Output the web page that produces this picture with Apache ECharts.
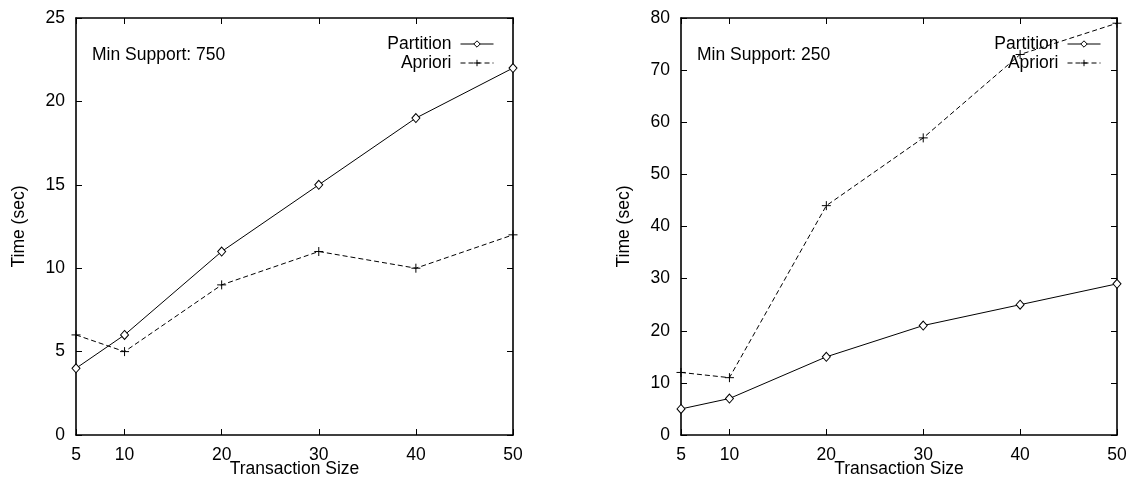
<!DOCTYPE html>
<html>
<head>
<meta charset="utf-8">
<script src="https://cdn.jsdelivr.net/npm/echarts@6/dist/echarts.min.js"></script>
<style>html,body{margin:0;padding:0;background:#fff}#c{width:1132px;height:481px}</style>
</head>
<body>
<div id="c"></div>
<script>
const sizes = [5, 10, 20, 30, 40, 50];
const xTicks = [5, 10, 20, 30, 40, 50];
const partition750 = [4, 6, 11, 15, 19, 22];
const apriori750 = [6, 5, 9, 11, 10, 12];
const partition250 = [5, 7, 15, 21, 25, 29];
const apriori250 = [12, 11, 44, 57, 73, 79];
const seriesNames = ['Partition', 'Apriori'];
const supportLabels = ['Min Support: 750', 'Min Support: 250'];
const xTitle = 'Transaction Size';
const yTitle = 'Time (sec)';

const FONT = 'Liberation Sans, Arial, sans-serif';
const FS = 17.5;
const pair = (xs, ys) => xs.map((x, i) => [x, ys[i]]);
const PLUS = 'path://M0,5L10,5M5,0L5,10';

const chart = echarts.init(document.getElementById('c'), null, {renderer: 'canvas'});

const grids = [
  {left: 76, right: 619, top: 18, bottom: 46, containLabel: false, outerBoundsMode: 'none'},
  {left: 681, right: 15, top: 18, bottom: 46, containLabel: false, outerBoundsMode: 'none'}
];
const yCfg = [{max: 25, interval: 5}, {max: 80, interval: 10}];
const lineStyleAxis = {color: '#000', width: 1.6};

const xAxes = [], yAxes = [], series = [], legends = [], titles = [];
[0, 1].forEach(g => {
  xAxes.push({
    type: 'value', gridIndex: g, min: 5, max: 50, position: 'bottom',
    name: xTitle, nameLocation: 'middle', nameGap: 25, nameMoveOverlap: false,
    nameTextStyle: {fontFamily: FONT, fontSize: FS, color: '#000'},
    axisLine: {show: true, onZero: false, lineStyle: lineStyleAxis},
    axisTick: {show: true, inside: true, length: 6, customValues: xTicks, lineStyle: {color: '#000', width: 1}},
    axisLabel: {show: true, customValues: xTicks, margin: 11, fontFamily: FONT, fontSize: FS, color: '#000'},
    splitLine: {show: false}
  });
  xAxes.push({
    type: 'value', gridIndex: g, min: 5, max: 50, position: 'top',
    axisLine: {show: true, onZero: false, lineStyle: lineStyleAxis},
    axisTick: {show: true, inside: true, length: 6, customValues: xTicks, lineStyle: {color: '#000', width: 1}},
    axisLabel: {show: false},
    splitLine: {show: false}
  });
  yAxes.push({
    type: 'value', gridIndex: g, min: 0, max: yCfg[g].max, interval: yCfg[g].interval, position: 'left',
    name: yTitle, nameLocation: 'middle', nameGap: 48, nameRotate: 90, nameMoveOverlap: false,
    nameTextStyle: {fontFamily: FONT, fontSize: FS, color: '#000'},
    axisLine: {show: true, onZero: false, lineStyle: lineStyleAxis},
    axisTick: {show: true, inside: true, length: 6, lineStyle: {color: '#000', width: 1}},
    axisLabel: {show: true, margin: 11, fontFamily: FONT, fontSize: FS, color: '#000'},
    splitLine: {show: false}
  });
  yAxes.push({
    type: 'value', gridIndex: g, min: 0, max: yCfg[g].max, interval: yCfg[g].interval, position: 'right',
    axisLine: {show: true, onZero: false, lineStyle: lineStyleAxis},
    axisTick: {show: true, inside: true, length: 6, lineStyle: {color: '#000', width: 1}},
    axisLabel: {show: false},
    splitLine: {show: false}
  });
  const pData = g === 0 ? partition750 : partition250;
  const aData = g === 0 ? apriori750 : apriori250;
  series.push({
    name: seriesNames[0], type: 'line', xAxisIndex: g * 2, yAxisIndex: g * 2,
    data: pair(sizes, pData), symbol: 'diamond', symbolSize: [8, 9], showAllSymbol: true,
    lineStyle: {color: '#000', width: 1, type: 'solid'},
    itemStyle: {color: '#fff', borderColor: '#000', borderWidth: 1},
    animation: false, z: 3
  });
  series.push({
    name: seriesNames[1], type: 'line', xAxisIndex: g * 2, yAxisIndex: g * 2,
    data: pair(sizes, aData), symbol: PLUS, symbolSize: 9, showAllSymbol: true,
    lineStyle: {color: '#000', width: 1, type: [5, 3]},
    itemStyle: {color: 'transparent', borderColor: '#000', borderWidth: 1},
    animation: false, z: 2
  });
  titles.push({
    text: supportLabels[g], left: g === 0 ? 92 : 697, top: 46, padding: 0,
    textStyle: {fontFamily: FONT, fontSize: FS, fontWeight: 'normal', color: '#000'}
  });
  legends.push({
    orient: 'vertical', align: 'right', right: g === 0 ? 638 : 31, top: 35, padding: 0, itemGap: 1,
    itemWidth: 33, itemHeight: 8,
    data: seriesNames,
    lineStyle: {width: 1},
    itemStyle: {borderWidth: 1},
    textStyle: {fontFamily: FONT, fontSize: FS, color: '#000', padding: [0, 4, 0, 0], lineHeight: 18},
    selectedMode: false
  });
});

chart.setOption({
  backgroundColor: '#fff',
  animation: false,
  title: titles,
  grid: grids,
  xAxis: xAxes,
  yAxis: yAxes,
  series: series,
  legend: legends
});
</script>
</body>
</html>
